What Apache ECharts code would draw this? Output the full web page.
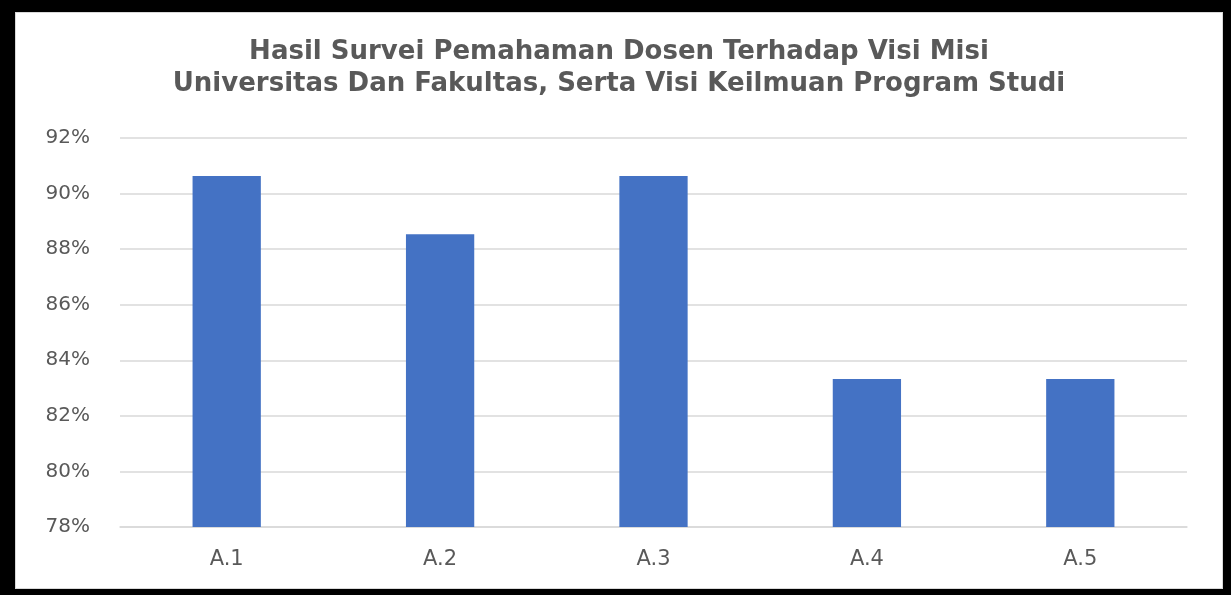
<!DOCTYPE html>
<html>
<head>
<meta charset="utf-8">
<script src="https://cdn.jsdelivr.net/npm/echarts@6/dist/echarts.min.js"></script>
<style>
  html, body { margin: 0; padding: 0; background: #000; }
  .frame {
    position: absolute;
    left: 15px;
    top: 12px;
    width: 1208px;
    height: 577px;
    border: 1px solid #d9d9d9;
    box-sizing: border-box;
    background: #fff;
  }
  #chart { width: 1206px; height: 575px; }
</style>
</head>
<body>
<div class="frame"><div id="chart"></div></div>
<script>
const categories = ['A.1', 'A.2', 'A.3', 'A.4', 'A.5']
const values = [90.63, 88.54, 90.63, 83.33, 83.33]
const titleLines = [
  'Hasil Survei Pemahaman Dosen Terhadap Visi Misi',
  'Universitas Dan Fakultas, Serta Visi Keilmuan Program Studi'
]

const chart = echarts.init(document.getElementById('chart'))
chart.setOption({
  animation: false,
  title: {
    text: titleLines.join('\n'),
    left: 'center',
    top: 18,
    textStyle: {
      fontFamily: 'DejaVu Sans',
      fontSize: 26,
      fontWeight: 'bold',
      color: '#595959',
      lineHeight: 32
    }
  },
  grid: { left: 104, right: 35, top: 125, bottom: 61 },
  xAxis: {
    type: 'category',
    data: categories,
    axisLine: { lineStyle: { color: '#d9d9d9', width: 1.5 } },
    axisTick: { show: false },
    axisLabel: { color: '#595959', fontSize: 21, fontFamily: 'DejaVu Sans', margin: 22 }
  },
  yAxis: {
    type: 'value',
    min: 78,
    max: 92,
    interval: 2,
    axisLine: { show: false },
    axisTick: { show: false },
    axisLabel: {
      color: '#595959',
      fontSize: 20,
      fontFamily: 'DejaVu Sans',
      margin: 30,
      formatter: v => v + '%'
    },
    splitLine: { lineStyle: { color: '#d9d9d9', width: 1.5 } }
  },
  series: [{
    type: 'bar',
    data: values,
    barWidth: '32%',
    itemStyle: { color: '#4472c4' }
  }]
})
</script>
</body>
</html>
